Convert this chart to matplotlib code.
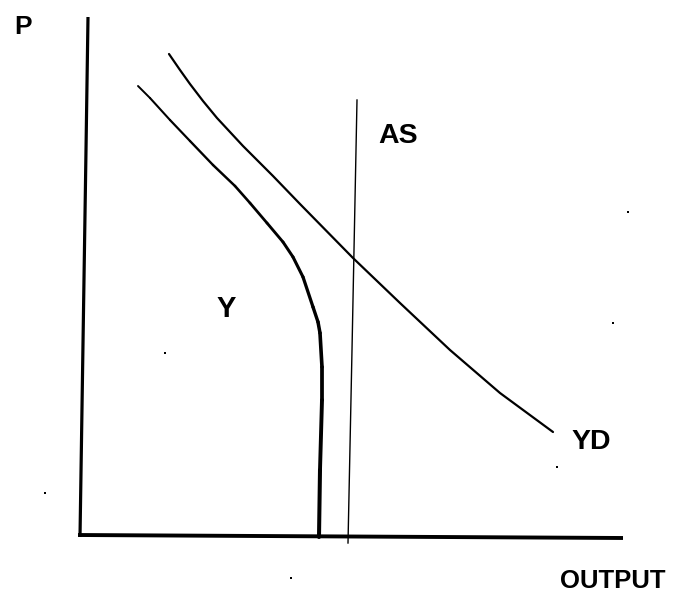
import matplotlib
matplotlib.use("Agg")
import matplotlib.pyplot as plt
import numpy as np
from matplotlib.collections import LineCollection

W, H = 678, 594

# ---- data (in drawing units of the scanned diagram) ----
p_axis_x = [88, 86, 80]
p_axis_y = [17, 150, 537]
out_axis_x = [78, 623]
out_axis_y = [535, 538]

as_x = [357, 352, 348]
as_y = [100, 350, 543]

yd_x = [169, 180, 190, 203, 217, 230, 243, 258, 273, 300, 353, 400, 450, 500, 553]
yd_y = [54, 70, 84, 101, 118, 132, 146, 161, 176, 204, 258, 303, 350, 393, 432]

y_x = [138, 150, 170, 190, 213, 235, 250, 267, 283, 293, 303, 313, 318, 320, 322, 322, 320, 319]
y_y = [86, 98, 120, 141, 165, 186, 203, 223, 242, 257, 277, 307, 322, 333, 367, 400, 470, 537]

labels = ["P", "AS", "Y", "YD", "OUTPUT"]
label_x = [23.5, 398.5, 226.5, 591, 613]
label_y = [34, 143, 317, 449, 588]
label_size = [19, 20.5, 21, 20.5, 18.5]

speck_x = [165, 45, 557, 291, 628, 613]
speck_y = [353, 493, 467, 578, 212, 323]

# ---- drawing ----
fig = plt.figure(figsize=(W / 100, H / 100), dpi=100)
ax = fig.add_axes([0, 0, 1, 1])
ax.set_xlim(0, W)
ax.set_ylim(H, 0)
ax.axis("off")

ax.plot(p_axis_x, p_axis_y, color="black", lw=2.3, solid_capstyle="butt")
ax.plot(out_axis_x, out_axis_y, color="black", lw=2.8, solid_capstyle="butt")
ax.plot(as_x, as_y, color="black", lw=1.0)
ax.plot(yd_x, yd_y, color="black", lw=1.6, solid_capstyle="round", solid_joinstyle="round")

pts = np.column_stack([y_x, y_y])
segs = np.stack([pts[:-1], pts[1:]], axis=1)
widths = np.linspace(1.4, 2.9, len(segs))
lc = LineCollection(segs, colors="black", linewidths=widths, capstyle="round", joinstyle="round")
ax.add_collection(lc)

for t, x, y, s in zip(labels, label_x, label_y, label_size):
    ax.text(x, y, t, ha="center", va="baseline", fontsize=s,
            fontweight="bold", family=["Liberation Sans", "DejaVu Sans"], color="black")

ax.scatter(speck_x, speck_y, s=3, color="black", marker="s", linewidths=0)

fig.savefig("out.png", dpi=100)
